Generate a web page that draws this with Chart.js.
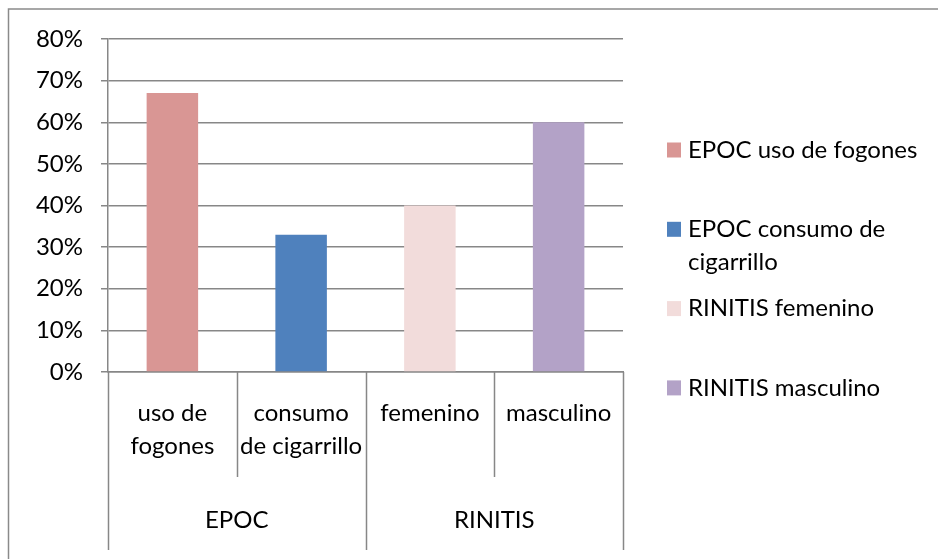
<!DOCTYPE html>
<html>
<head>
<meta charset="utf-8">
<script src="https://cdn.jsdelivr.net/npm/chart.js@4"></script>
<style>
  html, body { margin: 0; padding: 0; background: #fff; }
  canvas { display: block; }
</style>
</head>
<body>
<canvas id="chart" width="938" height="559"></canvas>
<script>
// Categories: inner (sub) labels, split into display lines, and outer groups
const subLabels = [['uso de', 'fogones'], ['consumo', 'de cigarrillo'], ['femenino'], ['masculino']];
const groupNames = ['EPOC', 'RINITIS'];
const groupSizes = [2, 2];
// Share of each category
const values = [0.67, 0.33, 0.40, 0.60];
const barColors = ['#D99694', '#4F81BD', '#F2DCDB', '#B3A2C7'];
// Y tick settings
const yMax = 0.8;
const yStep = 0.1;

const FONT = 'Lato, "Liberation Sans", sans-serif';
const FONT_SIZE = 24;
const LINE = '#878787';

// Group name for each category (EPOC, EPOC, RINITIS, RINITIS)
const groupOfCat = [];
groupSizes.forEach((n, g) => { for (let i = 0; i < n; i++) groupOfCat.push(g); });
const legendNames = subLabels.map((l, i) => groupNames[groupOfCat[i]] + ' ' + l.join(' '));

// Frame, two-level category axis and the side legend
const decorations = {
  id: 'decorations',
  beforeDraw(chart) {
    const ctx = chart.ctx;
    ctx.save();
    ctx.fillStyle = '#fff';
    ctx.fillRect(0, 0, chart.width, chart.height);
    ctx.strokeStyle = '#8a8a8a';
    ctx.lineWidth = 1.5;
    ctx.beginPath();
    ctx.moveTo(8.5, chart.height);
    ctx.lineTo(8.5, 9);
    ctx.lineTo(chart.width, 9);
    ctx.stroke();
    ctx.restore();
  },
  afterDraw(chart) {
    const ctx = chart.ctx;
    const x = chart.scales.x;
    const area = chart.chartArea;
    const n = subLabels.length;
    const edge = (i) => {
      if (i <= 0) return area.left;
      if (i >= n) return area.right;
      return (x.getPixelForValue(i - 1) + x.getPixelForValue(i)) / 2;
    };
    const axisY = area.bottom;
    const innerBottom = axisY + 105;
    const outerBottom = axisY + 178;

    ctx.save();
    ctx.strokeStyle = LINE;
    ctx.lineWidth = 1.5;
    // group boundaries run the full depth, inner boundaries stop at the first row
    const groupEdges = [0];
    groupSizes.forEach(s => groupEdges.push(groupEdges[groupEdges.length - 1] + s));
    for (let i = 0; i <= n; i++) {
      const px = Math.round(edge(i)) + 0.5;
      const isGroupEdge = groupEdges.includes(i);
      ctx.beginPath();
      ctx.moveTo(px, axisY);
      ctx.lineTo(px, isGroupEdge ? outerBottom : innerBottom);
      ctx.stroke();
    }
    // group labels
    ctx.fillStyle = '#000';
    ctx.font = FONT_SIZE + 'px ' + FONT;
    ctx.textAlign = 'center';
    ctx.textBaseline = 'middle';
    groupNames.forEach((name, g) => {
      const cx = (edge(groupEdges[g]) + edge(groupEdges[g + 1])) / 2;
      ctx.fillText(name, cx, axisY + 148);
    });

    // legend
    const boxX = 667, textX = 688, maxW = 242;
    const firstY = 150, step = 79.3, lineH = 33;
    ctx.textAlign = 'left';
    legendNames.forEach((name, i) => {
      const y0 = firstY + i * step;
      ctx.fillStyle = barColors[i];
      ctx.fillRect(boxX, y0 - 7.5, 14, 15);
      // wrap words to the available width
      const words = name.split(' ');
      const lines = [];
      let cur = '';
      words.forEach(w => {
        const t = cur ? cur + ' ' + w : w;
        if (ctx.measureText(t).width > maxW && cur) { lines.push(cur); cur = w; }
        else cur = t;
      });
      lines.push(cur);
      ctx.fillStyle = '#000';
      lines.forEach((ln, k) => ctx.fillText(ln, textX, y0 + k * lineH));
    });
    ctx.restore();
  }
};

Chart.defaults.font.family = FONT;
Chart.defaults.font.size = FONT_SIZE;
Chart.defaults.color = '#000';

new Chart(document.getElementById('chart'), {
  type: 'bar',
  data: {
    labels: subLabels,
    datasets: [{
      data: values,
      backgroundColor: barColors,
      borderWidth: 0,
      barPercentage: 0.4,
      categoryPercentage: 1.0
    }]
  },
  options: {
    responsive: false,
    animation: false,
    events: [],
    layout: { padding: { top: 39, right: 315, bottom: 0, left: 0 } },
    plugins: {
      legend: { display: false },
      tooltip: { enabled: false },
      title: { display: false }
    },
    scales: {
      x: {
        offset: true,
        grid: { display: false, drawTicks: false },
        border: { display: true, color: LINE, width: 1.5 },
        ticks: {
          padding: 25,
          maxRotation: 0,
          autoSkip: false,
          font: { size: FONT_SIZE, lineHeight: 1.375 }
        },
        afterFit(scale) { scale.height = 187; }
      },
      y: {
        min: 0,
        max: yMax,
        grid: { color: LINE, lineWidth: 1.5, tickLength: 7 },
        border: { display: true, color: LINE, width: 1.5 },
        ticks: {
          stepSize: yStep,
          padding: 18,
          callback: (v) => Math.round(v * 100) + '%'
        },
        afterFit(scale) { scale.width = 108; }
      }
    }
  },
  plugins: [decorations]
});
</script>
</body>
</html>
